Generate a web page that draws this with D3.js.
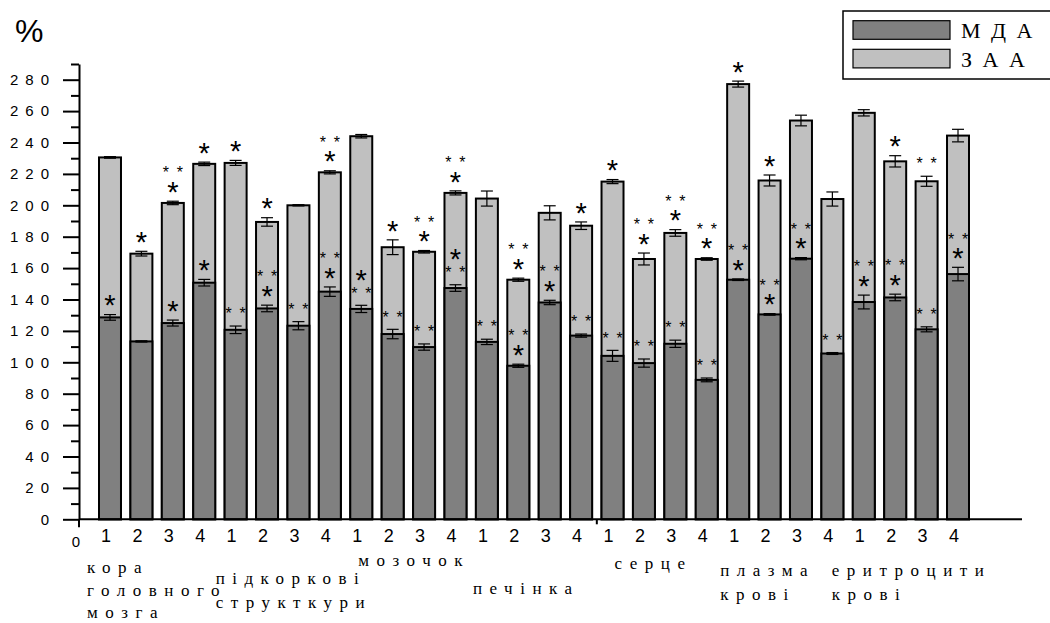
<!DOCTYPE html>
<html>
<head>
<meta charset="utf-8">
<script src="https://cdn.jsdelivr.net/npm/d3@7"></script>
<style>
  body { margin: 0; background: #fff; }
  svg { display: block; }
</style>
</head>
<body>
<div id="chart"></div>
<script>
// groups (organs) and the four bars inside each
const groupLabels = [
  ["кора", "головного", "мозга"],
  ["підкоркові", "структкури"],
  ["мозочок"],
  ["печінка"],
  ["серце"],
  ["плазма", "крові"],
  ["еритроцити", "крові"]
];
const barLabels = ["1", "2", "3", "4"];

// МДА (dark) and ЗАА (light) values, % of control, with error
const mdaValues = [128.6, 113.3, 125, 150.7, 120.7, 134.3, 123.3, 145, 134, 118, 109.7, 147.3, 113, 97.8,
  138.1, 117, 104.1, 99.5, 111.8, 88.8, 152.6, 130.5, 166, 105.6, 138.4, 141.3, 121, 156.2];
const mdaErrors = [1.8, 0.4, 1.9, 2.1, 2.4, 2.1, 2.6, 3, 2.3, 3, 2, 2.1, 1.7, 1,
  1.4, 1, 3.5, 2.6, 2.3, 1.2, 0.5, 0.5, 0.7, 0.6, 4.4, 2.1, 1.6, 4.3];
const zaaValues = [230.5, 169.2, 201.5, 226.4, 227, 189.4, 200, 221, 244, 173.3, 170.4, 207.9, 204.3, 152.6,
  195.2, 187, 215.1, 165.8, 182.4, 165.8, 277.2, 215.8, 254, 204, 258.9, 228, 215.3, 244.4];
const zaaErrors = [0.5, 1.5, 1.1, 1.1, 1.6, 2.7, 0.4, 1, 1.1, 4.7, 0.8, 1.3, 4.8, 1,
  4.5, 2.4, 1.3, 3.8, 2.1, 0.8, 1.9, 3.5, 3.4, 4.5, 2, 3.6, 3.2, 4];

// significance marks, listed from bottom to top
const zaaMarks = [[], ["*"], ["*", "**"], ["*"], ["*"], ["*"], [], ["*", "**"], [], ["*"], ["*", "**"], ["*", "**"], [], ["*", "**"],
  [], ["*"], ["*"], ["*", "**"], ["*", "**"], ["*", "**"], ["*"], ["*"], [], [], [], ["*"], ["**"], []];
const mdaMarks = [["*"], [], ["*"], ["*"], ["**"], ["*", "**"], ["**"], ["*", "**"], ["**", "*"], ["**"], ["**"], ["**", "*"], ["**"], ["*", "**"],
  ["*", "**"], ["**"], ["**"], ["**"], ["**"], ["**"], ["*", "**"], ["*", "**"], ["*", "**"], ["**"], ["*", "**"], ["*", "**"], ["**"], ["*", "**"]];

const legendItems = ["М Д А", "З А А"];
const yTicks = d3.range(0, 281, 20);

// layout of the organ captions (x shift from first bar, baselines of lines)
const captionLayout = [
  { dx: -12, ys: [573, 596, 618] },
  { dx: -9, ys: [584, 608] },
  { dx: 8, ys: [566] },
  { dx: -3, ys: [594] },
  { dx: 13, ys: [569] },
  { dx: -7, ys: [576, 600] },
  { dx: -21, ys: [576, 600] }
];

var width = 1050, height = 623;
var colors = { mda: "#808080", zaa: "#c0c0c0" };
var sans = "'Liberation Sans', Arial, sans-serif";
var serif = "'Liberation Serif', 'DejaVu Serif', serif";

var svg = d3.select("#chart").append("svg")
  .attr("width", width)
  .attr("height", height);

var n = mdaValues.length;
var x = d3.scaleBand().domain(d3.range(n)).range([99, 969]).paddingInner(0.3).paddingOuter(0);
var y = d3.scaleLinear().domain([0, 290]).range([519.3, 64]);
var axisX = 79;

var rows = d3.range(n).map(i => ({
  i: i, mda: mdaValues[i], mdaErr: mdaErrors[i], zaa: zaaValues[i], zaaErr: zaaErrors[i],
  zaaMarks: zaaMarks[i], mdaMarks: mdaMarks[i], label: barLabels[i % 4]
}));

// light bars (ЗАА)
svg.append("g").selectAll("rect")
  .data(rows).enter().append("rect")
  .attr("x", d => x(d.i))
  .attr("y", d => y(d.zaa))
  .attr("width", x.bandwidth())
  .attr("height", d => y(0) - y(d.zaa))
  .style("fill", colors.zaa)
  .style("stroke", "#000")
  .style("stroke-width", 2);

// dark bars (МДА)
svg.append("g").selectAll("rect")
  .data(rows).enter().append("rect")
  .attr("x", d => x(d.i))
  .attr("y", d => y(d.mda))
  .attr("width", x.bandwidth())
  .attr("height", d => y(0) - y(d.mda))
  .style("fill", colors.mda)
  .style("stroke", "#000")
  .style("stroke-width", 2);

// error bars
function errorBar(g, cx, v, e) {
  var cap = 6;
  g.append("line").attr("x1", cx).attr("x2", cx).attr("y1", y(v - e)).attr("y2", y(v + e));
  g.append("line").attr("x1", cx - cap).attr("x2", cx + cap).attr("y1", y(v + e)).attr("y2", y(v + e));
  g.append("line").attr("x1", cx - cap).attr("x2", cx + cap).attr("y1", y(v - e)).attr("y2", y(v - e));
}
var errG = svg.append("g").style("stroke", "#000").style("stroke-width", 1.2);
rows.forEach(d => {
  var cx = x(d.i) + x.bandwidth() / 2;
  errorBar(errG, cx, d.zaa, d.zaaErr);
  errorBar(errG, cx, d.mda, d.mdaErr);
});

// asterisks
var markG = svg.append("g").style("font-family", sans).style("fill", "#000");
function drawMarks(cx, base, marks) {
  var cy = base - 16;
  marks.forEach(m => {
    if (m === "*") {
      markG.append("text").attr("x", cx).attr("y", cy + 0.575 * 29)
        .attr("text-anchor", "middle").style("font-size", "29px").text("*");
    } else {
      [-7, 7].forEach(off => {
        markG.append("text").attr("x", cx + off).attr("y", cy + 0.575 * 16)
          .attr("text-anchor", "middle").style("font-size", "16px").text("*");
      });
    }
    cy -= 16;
  });
}
rows.forEach(d => {
  var cx = x(d.i) + x.bandwidth() / 2;
  drawMarks(cx, y(d.zaa + d.zaaErr), d.zaaMarks);
  drawMarks(cx, y(d.mda + d.mdaErr), d.mdaMarks);
});

// y axis, major and minor ticks
var yAxis = svg.append("g")
  .attr("transform", `translate(${axisX},0)`)
  .call(d3.axisLeft(y).tickValues(yTicks).tickSize(16).tickSizeOuter(0).tickPadding(7));
yAxis.select(".domain").style("stroke-width", 2);
yAxis.selectAll(".tick line").style("stroke-width", 2);
yAxis.selectAll(".tick text")
  .style("font-family", sans).style("font-size", "15px").style("letter-spacing", "7px").style("fill", "#000");

var yMinor = svg.append("g")
  .attr("transform", `translate(${axisX},0)`)
  .call(d3.axisLeft(y).tickValues(d3.range(10, 291, 20)).tickSize(8).tickFormat(""));
yMinor.select(".domain").remove();
yMinor.selectAll(".tick line").style("stroke-width", 2);

// x axis
svg.append("line").attr("x1", axisX).attr("x2", 1022).attr("y1", y(0)).attr("y2", y(0))
  .style("stroke", "#000").style("stroke-width", 2);
svg.append("line").attr("x1", axisX).attr("x2", axisX).attr("y1", y(0)).attr("y2", y(0) + 8)
  .style("stroke", "#000").style("stroke-width", 2);
var midTick = x(16) - x.step() * 0.15;
svg.append("line").attr("x1", midTick).attr("x2", midTick).attr("y1", y(0)).attr("y2", y(0) + 5)
  .style("stroke", "#000").style("stroke-width", 2);

svg.append("g").selectAll("text")
  .data(rows).enter().append("text")
  .attr("x", d => x(d.i) + x.bandwidth() / 2 - 4)
  .attr("y", 542)
  .attr("text-anchor", "middle")
  .style("font-family", sans).style("font-size", "18px")
  .text(d => d.label);

svg.append("text").attr("x", 76).attr("y", 547).attr("text-anchor", "middle")
  .style("font-family", sans).style("font-size", "15px").text("0");

svg.append("text").attr("x", 15).attr("y", 42)
  .style("font-family", sans).style("font-size", "32px").text("%");

// organ captions
groupLabels.forEach((lines, gi) => {
  var lay = captionLayout[gi];
  lines.forEach((t, li) => {
    svg.append("text")
      .attr("x", x(gi * 4) + lay.dx)
      .attr("y", lay.ys[li])
      .style("font-family", serif).style("font-size", "17px").style("letter-spacing", "7.5px")
      .text(t);
  });
});

// legend
var leg = svg.append("g");
leg.append("rect").attr("x", 843).attr("y", 11).attr("width", 215).attr("height", 68)
  .style("fill", "#fff").style("stroke", "#000").style("stroke-width", 1.5);
legendItems.forEach((name, i) => {
  leg.append("rect").attr("x", 853).attr("y", 20.7 + i * 28.6).attr("width", 97).attr("height", 18.6)
    .style("fill", i === 0 ? colors.mda : colors.zaa).style("stroke", "#000").style("stroke-width", 1.2);
  leg.append("text").attr("x", 961).attr("y", 37.7 + i * 29)
    .style("font-family", serif).style("font-size", "22px").style("letter-spacing", "2.5px")
    .text(name);
});
</script>
</body>
</html>
